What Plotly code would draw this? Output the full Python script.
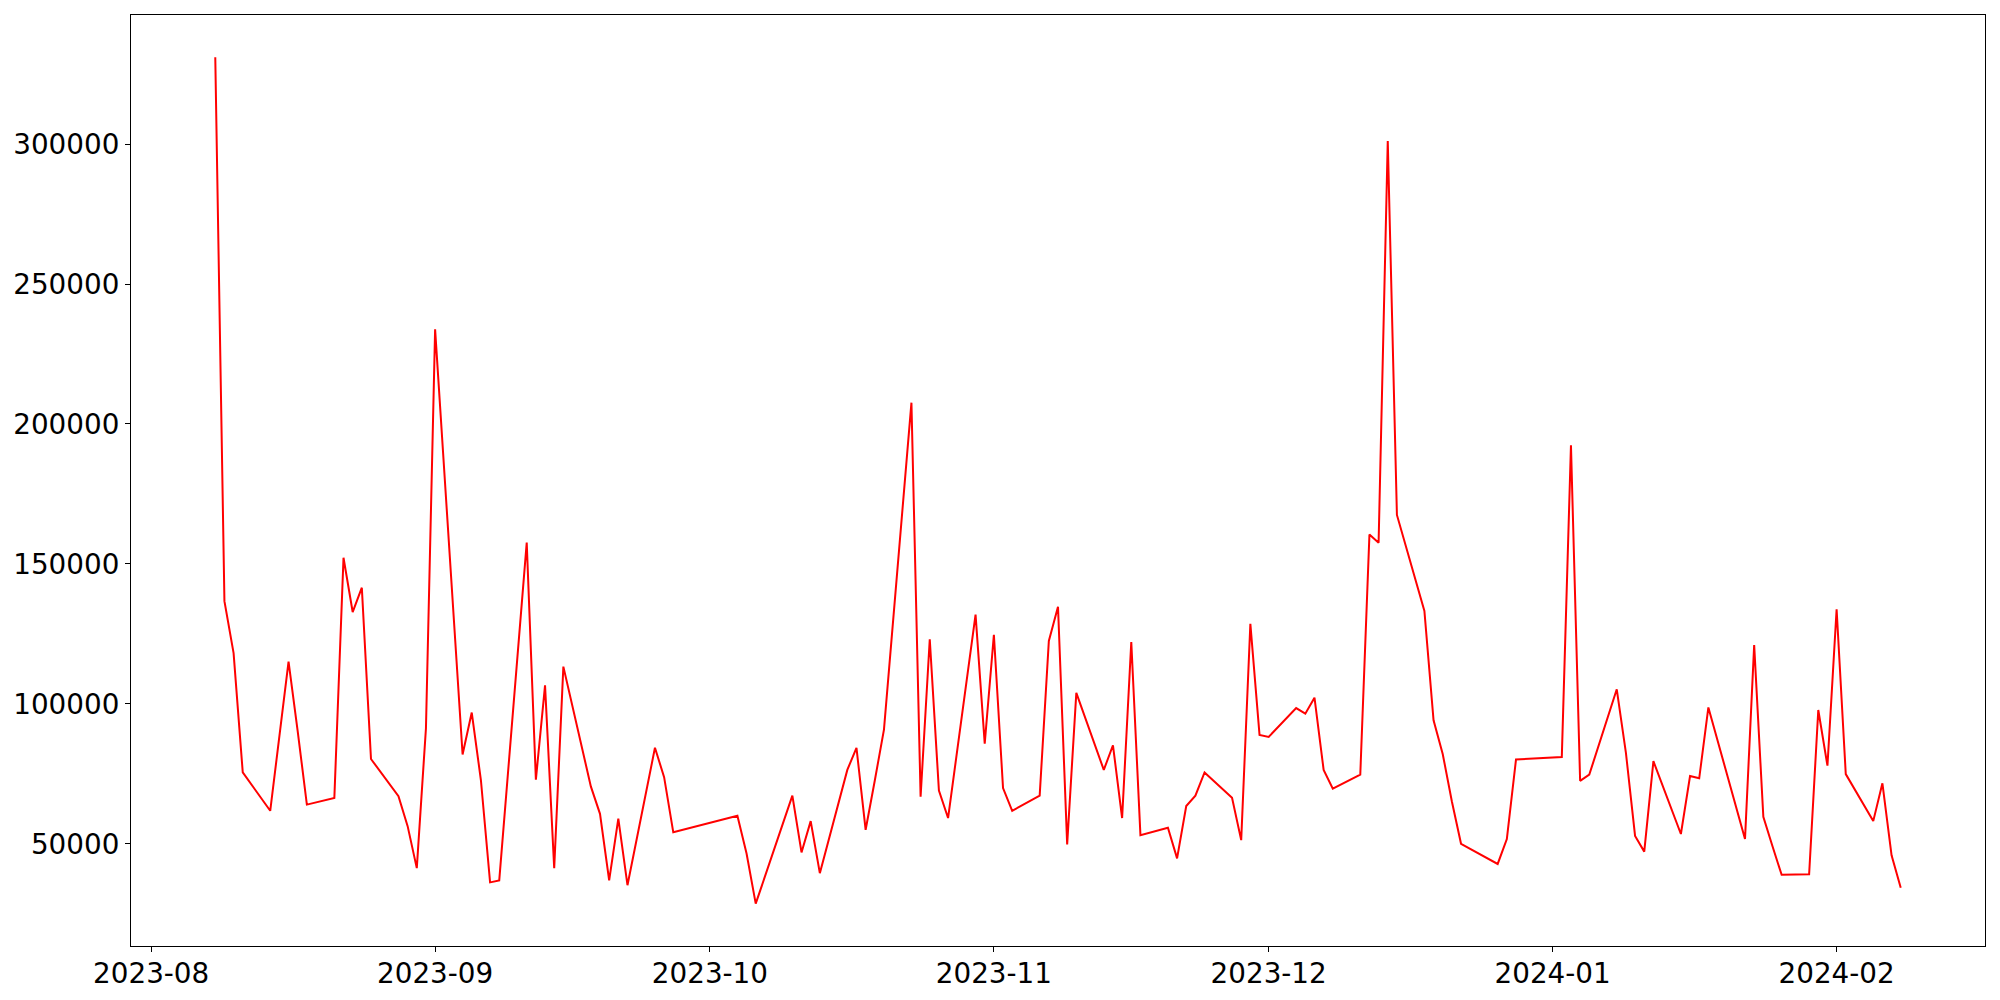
import pandas as pd
import plotly.graph_objects as go

dates = [
    "2023-08-08", "2023-08-09", "2023-08-10", "2023-08-11", "2023-08-14", "2023-08-16",
    "2023-08-17", "2023-08-18", "2023-08-21", "2023-08-22", "2023-08-23", "2023-08-24",
    "2023-08-25", "2023-08-28", "2023-08-29", "2023-08-30", "2023-08-31",
    "2023-09-01", "2023-09-04", "2023-09-05", "2023-09-06", "2023-09-07", "2023-09-08",
    "2023-09-11", "2023-09-12", "2023-09-13", "2023-09-14", "2023-09-15", "2023-09-18",
    "2023-09-19", "2023-09-20", "2023-09-21", "2023-09-22", "2023-09-25", "2023-09-26",
    "2023-09-27",
    "2023-10-04", "2023-10-05", "2023-10-06", "2023-10-10", "2023-10-11", "2023-10-12",
    "2023-10-13", "2023-10-16", "2023-10-17", "2023-10-18", "2023-10-19", "2023-10-20",
    "2023-10-23", "2023-10-24", "2023-10-25", "2023-10-26", "2023-10-27", "2023-10-30",
    "2023-10-31",
    "2023-11-01", "2023-11-02", "2023-11-03", "2023-11-06", "2023-11-07", "2023-11-08",
    "2023-11-09", "2023-11-10", "2023-11-13", "2023-11-14", "2023-11-15", "2023-11-16",
    "2023-11-17", "2023-11-20", "2023-11-21", "2023-11-22", "2023-11-23", "2023-11-24",
    "2023-11-27", "2023-11-28", "2023-11-29", "2023-11-30",
    "2023-12-01", "2023-12-04", "2023-12-05", "2023-12-06", "2023-12-07", "2023-12-08",
    "2023-12-11", "2023-12-12", "2023-12-13", "2023-12-14", "2023-12-15", "2023-12-18",
    "2023-12-19", "2023-12-20", "2023-12-21", "2023-12-22", "2023-12-26", "2023-12-27",
    "2023-12-28",
    "2024-01-02", "2024-01-03", "2024-01-04", "2024-01-05", "2024-01-08", "2024-01-09",
    "2024-01-10", "2024-01-11", "2024-01-12", "2024-01-15", "2024-01-16", "2024-01-17",
    "2024-01-18", "2024-01-22", "2024-01-23", "2024-01-24", "2024-01-25", "2024-01-26",
    "2024-01-29", "2024-01-30", "2024-01-31",
    "2024-02-01", "2024-02-02", "2024-02-05", "2024-02-06", "2024-02-07", "2024-02-08",
]

values = [
    331000, 136700, 118100, 75500, 61800, 115100,
    90200, 64000, 66400, 152200, 132800, 141500,
    80300, 67000, 56300, 41300, 91300,
    233800, 81900, 96900, 72700, 36200, 36900,
    157600, 72900, 106600, 41300, 113300, 70500,
    60700, 36900, 59000, 35200, 84300, 73800,
    54100,
    60000, 46500, 28600, 67200, 46900, 58100,
    39500, 76400, 84300, 55000, 72600, 90800,
    207600, 66800, 123100, 69000, 59200, 131900,
    85800,
    124700, 69900, 61800, 67200, 122500, 134700,
    49800, 103900, 76400, 85200, 59200, 122100,
    53100, 55700, 44800, 63500, 67200, 75500,
    66400, 51300, 128600, 88900,
    88200, 98500, 96500, 102200, 76400, 69700,
    74700, 160500, 157600, 301100, 167500, 133200,
    94100, 82100, 65100, 50000, 42800, 51700,
    80100,
    81000, 192400, 72500, 74700, 105200, 82500,
    52800, 47200, 79500, 53500, 74200, 73400,
    98700, 51700, 121000, 59600, 49100, 38900,
    39100, 97800, 77900,
    133800, 74900, 58100, 71600, 45900, 34300,
]

y_ticks = [50000, 100000, 150000, 200000, 250000, 300000]

x = pd.to_datetime(dates)
span = x.max() - x.min()
x_range = [x.min() - span * 0.05, x.max() + span * 0.05]
vmin, vmax = min(values), max(values)
vpad = (vmax - vmin) * 0.05
y_range = [vmin - vpad, vmax + vpad]

fig = go.Figure()
fig.add_trace(go.Scatter(
    x=x, y=values, mode="lines",
    line=dict(color="red", width=2),
    showlegend=False,
))

font = dict(family="DejaVu Sans", size=27.8, color="black")
axis_common = dict(
    showline=True, linecolor="black", linewidth=1.1, mirror=True,
    ticks="outside", ticklen=5, tickwidth=1.1, tickcolor="black",
    showgrid=False, zeroline=False, tickfont=font, automargin=False,
)

fig.update_layout(
    width=2000, height=1000,
    margin=dict(l=123, r=23, t=7, b=62),
    paper_bgcolor="white", plot_bgcolor="white",
    xaxis=dict(range=x_range, tickformat="%Y-%m", dtick="M1",
               tick0="2023-08-01", ticklabelstandoff=-2, **axis_common),
    yaxis=dict(range=y_range, tickvals=y_ticks,
               ticktext=[str(v) for v in y_ticks], ticklabelstandoff=0,
               **axis_common),
)

fig.write_html("out.html")
